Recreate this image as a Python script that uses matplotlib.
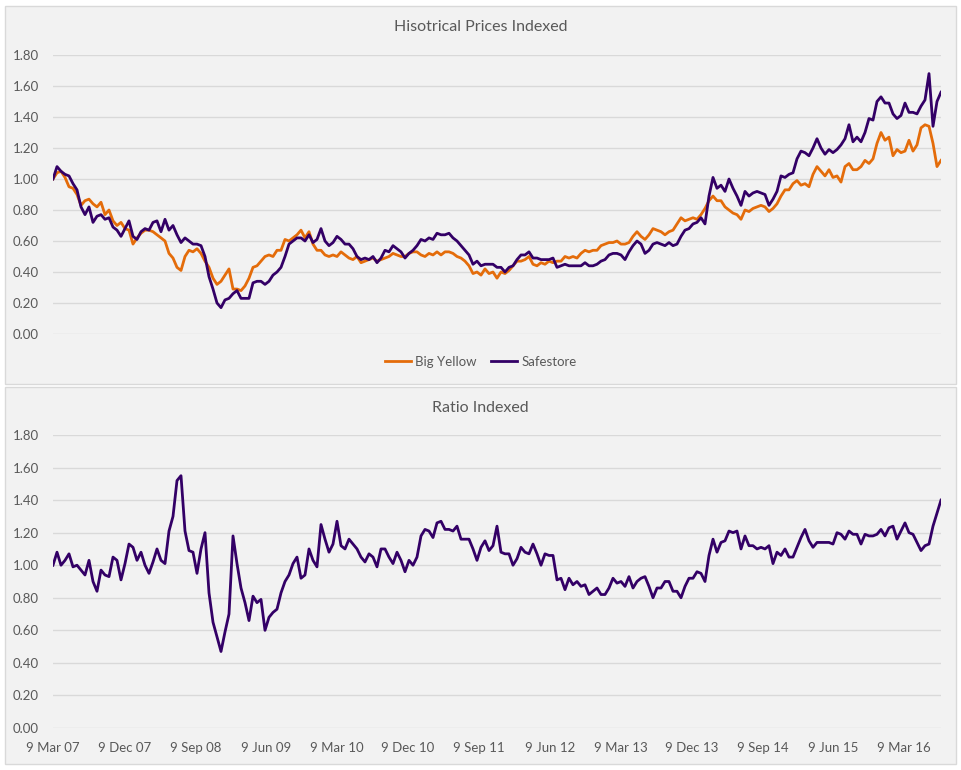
import matplotlib
matplotlib.use('Agg')
import matplotlib.pyplot as plt
from matplotlib.patches import Rectangle
from matplotlib.ticker import FuncFormatter, MultipleLocator
import pandas as pd

start_date = '2007-03-09'
end_date = '2016-07-29'

# values, evenly spaced in time
big_yellow = [
    1.00, 1.04, 1.05, 1.01, 0.95, 0.94, 0.90, 0.83, 0.86, 0.87,
    0.84, 0.82, 0.85, 0.77, 0.80, 0.73, 0.70, 0.72, 0.68, 0.67,
    0.58, 0.62, 0.65, 0.67, 0.67, 0.66, 0.64, 0.62, 0.60, 0.52,
    0.49, 0.43, 0.41, 0.50, 0.54, 0.53, 0.55, 0.52, 0.47, 0.43,
    0.36, 0.32, 0.34, 0.38, 0.42, 0.29, 0.29, 0.28, 0.31, 0.36,
    0.43, 0.44, 0.47, 0.50, 0.51, 0.50, 0.54,
    0.54, 0.61, 0.60, 0.62, 0.64, 0.67, 0.62, 0.66, 0.58, 0.54,
    0.54, 0.51, 0.50, 0.51, 0.50, 0.53, 0.51, 0.49, 0.48, 0.50,
    0.46, 0.47, 0.48, 0.49, 0.47, 0.48, 0.49, 0.50, 0.52, 0.51,
    0.50, 0.50, 0.52, 0.53, 0.53, 0.51, 0.50, 0.52, 0.51, 0.53,
    0.51, 0.53, 0.53, 0.52, 0.50, 0.49, 0.47, 0.44, 0.39, 0.40,
    0.38, 0.42, 0.39, 0.40, 0.36,
    0.40, 0.39, 0.41, 0.44, 0.47, 0.47, 0.48, 0.50, 0.45, 0.44,
    0.46, 0.45, 0.47, 0.46, 0.47, 0.47, 0.50, 0.49, 0.50, 0.49,
    0.52, 0.54, 0.53, 0.54, 0.54, 0.57, 0.58, 0.59, 0.59, 0.60,
    0.58, 0.58, 0.59, 0.63, 0.66, 0.63, 0.61, 0.64, 0.68, 0.67,
    0.66, 0.64, 0.66, 0.67, 0.71, 0.75, 0.73, 0.74, 0.75, 0.74,
    0.77, 0.81, 0.86, 0.89, 0.86,
    0.86, 0.82, 0.80, 0.78, 0.77, 0.74, 0.80, 0.79, 0.81, 0.82,
    0.83, 0.82, 0.79, 0.81, 0.84, 0.89, 0.93, 0.93, 0.97, 0.99,
    0.96, 0.97, 0.95, 1.03, 1.08, 1.05, 1.02, 1.06, 1.01, 1.02,
    0.98, 1.08, 1.10, 1.06, 1.06, 1.08, 1.12, 1.10, 1.13, 1.23,
    1.30, 1.25, 1.27, 1.15, 1.19, 1.17, 1.18, 1.25, 1.18, 1.22,
    1.33, 1.35, 1.34, 1.23, 1.08, 1.12,
]

safestore = [
    1.00, 1.08, 1.05, 1.03, 1.02, 0.97, 0.93, 0.82, 0.77, 0.82,
    0.72, 0.76, 0.77, 0.74, 0.75, 0.69, 0.67, 0.63, 0.68, 0.73,
    0.63, 0.61, 0.66, 0.68, 0.67, 0.72, 0.73, 0.66, 0.74, 0.67,
    0.70, 0.64, 0.59, 0.62, 0.60, 0.58, 0.58, 0.57, 0.50, 0.37,
    0.29, 0.20, 0.17, 0.22, 0.23, 0.26, 0.28, 0.23, 0.23, 0.23,
    0.33, 0.34, 0.34, 0.32, 0.34, 0.38, 0.40,
    0.43, 0.50, 0.58, 0.60, 0.62, 0.62, 0.60, 0.64, 0.59, 0.61,
    0.68, 0.60, 0.57, 0.59, 0.63, 0.61, 0.58, 0.58, 0.55, 0.50,
    0.48, 0.49, 0.48, 0.50, 0.46, 0.49, 0.54, 0.53, 0.57, 0.55,
    0.53, 0.49, 0.52, 0.54, 0.57, 0.61, 0.60, 0.62, 0.61, 0.65,
    0.64, 0.64, 0.65, 0.62, 0.60, 0.57, 0.54, 0.51, 0.45, 0.47,
    0.44, 0.45, 0.45, 0.45, 0.43,
    0.43, 0.40, 0.43, 0.44, 0.48, 0.51, 0.51, 0.53, 0.49, 0.49,
    0.48, 0.48, 0.48, 0.49, 0.43, 0.44, 0.45, 0.44, 0.44, 0.44,
    0.44, 0.46, 0.44, 0.44, 0.45, 0.47, 0.48, 0.51, 0.52, 0.52,
    0.51, 0.48, 0.53, 0.57, 0.60, 0.58, 0.52, 0.54, 0.58, 0.59,
    0.58, 0.57, 0.59, 0.57, 0.58, 0.63, 0.67, 0.68, 0.71, 0.72,
    0.75, 0.71, 0.89, 1.01, 0.94,
    0.96, 0.92, 1.00, 0.94, 0.89, 0.83, 0.92, 0.89, 0.91, 0.92,
    0.91, 0.90, 0.83, 0.87, 0.92, 1.02, 1.01, 1.03, 1.04, 1.13,
    1.18, 1.17, 1.15, 1.20, 1.26, 1.20, 1.16, 1.19, 1.17, 1.19,
    1.22, 1.26, 1.35, 1.24, 1.27, 1.24, 1.30, 1.39, 1.38, 1.50,
    1.53, 1.49, 1.49, 1.42, 1.39, 1.41, 1.49, 1.43, 1.43, 1.42,
    1.47, 1.51, 1.68, 1.34, 1.50, 1.56,
]

ratio = [
    1.00, 1.08, 1.00, 1.03, 1.07, 0.99, 1.00, 0.97, 0.94, 1.03,
    0.90, 0.84, 0.97, 0.94, 0.93, 1.05, 1.03, 0.91, 1.01, 1.13,
    1.11, 1.03, 1.08, 1.00, 0.95, 1.02, 1.10, 1.03, 1.01, 1.21,
    1.30, 1.52, 1.55, 1.21, 1.09, 1.08, 0.95, 1.10, 1.20, 0.83,
    0.65, 0.56, 0.47, 0.59, 0.70, 1.18, 1.01, 0.86, 0.77, 0.66,
    0.81, 0.77, 0.79, 0.60, 0.68, 0.71, 0.73,
    0.83, 0.90, 0.94, 1.01, 1.05, 0.92, 0.94, 1.10, 1.03, 0.99,
    1.25, 1.16, 1.08, 1.13, 1.27, 1.12, 1.10, 1.16, 1.13, 1.10,
    1.05, 1.02, 1.07, 1.05, 0.99, 1.10, 1.10, 1.05, 1.01, 1.08,
    1.03, 0.96, 1.03, 1.00, 1.05, 1.18, 1.22, 1.21, 1.17, 1.26,
    1.27, 1.22, 1.22, 1.21, 1.24, 1.16, 1.16, 1.16, 1.10, 1.03,
    1.11, 1.15, 1.09, 1.12, 1.24,
    1.08, 1.07, 1.07, 1.00, 1.04, 1.11, 1.08, 1.07, 1.13, 1.07,
    1.00, 1.07, 1.06, 1.06, 0.91, 0.92, 0.85, 0.92, 0.88, 0.90,
    0.87, 0.88, 0.82, 0.84, 0.86, 0.82, 0.82, 0.86, 0.92, 0.89,
    0.90, 0.87, 0.93, 0.86, 0.90, 0.92, 0.93, 0.87, 0.80, 0.86,
    0.86, 0.90, 0.90, 0.84, 0.84, 0.80, 0.87, 0.92, 0.92, 0.96,
    0.95, 0.90, 1.06, 1.16, 1.08,
    1.14, 1.15, 1.21, 1.20, 1.21, 1.10, 1.18, 1.12, 1.12, 1.10,
    1.11, 1.10, 1.12, 1.01, 1.08, 1.06, 1.10, 1.05, 1.05, 1.11,
    1.17, 1.22, 1.15, 1.11, 1.14, 1.14, 1.14, 1.14, 1.13, 1.20,
    1.19, 1.16, 1.21, 1.19, 1.19, 1.13, 1.19, 1.18, 1.18, 1.19,
    1.22, 1.18, 1.23, 1.24, 1.16, 1.21, 1.26, 1.20, 1.19, 1.14,
    1.09, 1.12, 1.13, 1.24, 1.32, 1.40,
]

dates = pd.date_range(start_date, end_date, periods=len(big_yellow))
tick_dates = [pd.Timestamp(start_date) + pd.DateOffset(months=9 * i) for i in range(13)]

plt.rcParams['font.family'] = ['Lato', 'DejaVu Sans']
grey_text = '#595959'
grid_col = '#D9D9D9'
orange = '#E46C0A'
purple = '#330066'

W, H = 961, 770
fig = plt.figure(figsize=(W / 100, H / 100), dpi=100)


def chart_box(top, bottom):
    fig.patches.append(Rectangle((5 / W, 1 - bottom / H), 951 / W, (bottom - top) / H,
                                 transform=fig.transFigure, facecolor='#F2F2F2',
                                 edgecolor=grid_col, lw=1, zorder=-5))


def setup(ax):
    ax.set_facecolor('none')
    ax.set_ylim(0, 1.8)
    ax.set_xlim(dates[0], dates[-1])
    ax.yaxis.set_major_locator(MultipleLocator(0.2))
    ax.yaxis.set_major_formatter(FuncFormatter(lambda v, p: f'{v:.2f}'))
    ax.grid(axis='y', color=grid_col, lw=1)
    ax.set_axisbelow(True)
    for s in ax.spines.values():
        s.set_visible(False)
    ax.tick_params(length=0, labelcolor=grey_text, labelsize=9.5, pad=10)


chart_box(6, 384)
chart_box(387, 764)

# top chart
ax1 = fig.add_axes([53 / W, 1 - 334 / H, 888 / W, 279 / H])
setup(ax1)
ax1.plot(dates, big_yellow, color=orange, lw=2.0, label='Big Yellow')
ax1.plot(dates, safestore, color=purple, lw=2.0, label='Safestore')
ax1.tick_params(axis='x', labelbottom=False)
fig.text(0.5, 1 - 27 / H, 'Hisotrical Prices Indexed', ha='center', va='center',
         fontsize=11.5, color=grey_text)
fig.legend(loc='center', bbox_to_anchor=(0.5, 1 - 362 / H), ncol=2, frameon=False,
           fontsize=9.5, labelcolor=grey_text, handlelength=2.0, handletextpad=0.3,
           columnspacing=1.1)

# bottom chart
ax2 = fig.add_axes([53 / W, 1 - 728 / H, 888 / W, 293 / H])
setup(ax2)
ax2.plot(dates, ratio, color=purple, lw=2.0)
ax2.set_xticks(tick_dates)
ax2.xaxis.set_major_formatter(FuncFormatter(
    lambda v, p: (lambda d: f"{d.day} {d.strftime('%b %y')}")(matplotlib.dates.num2date(v))))
fig.text(0.5, 1 - 408 / H, 'Ratio Indexed', ha='center', va='center',
         fontsize=11.5, color=grey_text)

fig.savefig('out.png', dpi=100)
